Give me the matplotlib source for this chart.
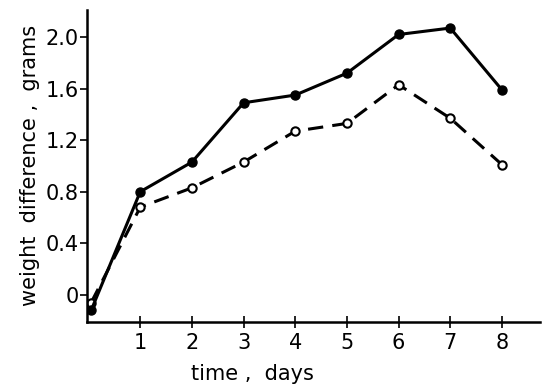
import matplotlib
matplotlib.use("Agg")
import matplotlib.pyplot as plt

# data
days = [0.05, 1, 2, 3, 4, 5, 6, 7, 8]
solid_vals = [-0.12, 0.80, 1.03, 1.49, 1.55, 1.72, 2.02, 2.07, 1.59]
dashed_vals = [-0.06, 0.68, 0.83, 1.03, 1.27, 1.33, 1.63, 1.37, 1.01]
x_ticks = [1, 2, 3, 4, 5, 6, 7, 8]
y_ticks = [0, 0.4, 0.8, 1.2, 1.6, 2.0]
y_tick_labels = ["0", "0.4", "0.8", "1.2", "1.6", "2.0"]

fig = plt.figure(figsize=(5.44, 3.85), dpi=100)
ax = fig.add_axes([0.16, 0.164, 0.833, 0.81])

# dashed series with open circles
ax.plot(days, dashed_vals, color="black", linewidth=2.2, linestyle=(0, (5, 3)),
        marker="o", markersize=6, markerfacecolor="white", markeredgecolor="black",
        markeredgewidth=1.5)
# solid series with filled circles
ax.plot(days, solid_vals, color="black", linewidth=2.2,
        marker="o", markersize=6.5, markerfacecolor="black", markeredgecolor="black")

ax.set_xlim(-0.03, 8.74)
ax.set_ylim(-0.21, 2.21)

ax.spines["top"].set_visible(False)
ax.spines["right"].set_visible(False)
ax.spines["left"].set_linewidth(1.8)
ax.spines["bottom"].set_linewidth(1.8)

ax.set_xticks(x_ticks)
ax.set_yticks(y_ticks)
ax.set_yticklabels(y_tick_labels)
ax.tick_params(axis="x", direction="inout", length=8, width=1.2, labelsize=15, pad=4)
ax.tick_params(axis="y", direction="out", length=5, width=1.2, labelsize=15, pad=1)

ax.set_xlabel("time ,  days", fontsize=15, labelpad=4)
ax.xaxis.set_label_coords(0.364, -0.135)
ax.set_ylabel("weight  difference ,  grams", fontsize=15, labelpad=4)

fig.savefig("out.png", dpi=100)
